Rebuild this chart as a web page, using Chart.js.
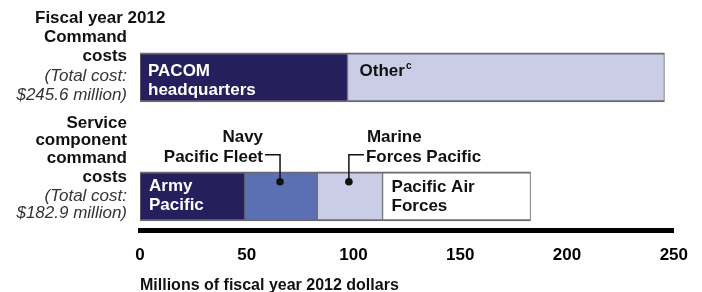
<!DOCTYPE html>
<html><head><meta charset="utf-8">
<script src="https://cdn.jsdelivr.net/npm/chart.js@4/dist/chart.umd.min.js"></script>
<style>html,body{margin:0;padding:0;background:#fff;} #wrap{width:702px;height:292px;position:relative;}</style>
</head><body><div id="wrap"><canvas id="c" width="702" height="292"></canvas></div>
<script>
const categories = ['Command costs', 'Service component command costs'];
const commandSegments = ['PACOM headquarters', 'Other'];
const commandValues = [97.2, 148.4];
const serviceSegments = ['Army Pacific', 'Navy Pacific Fleet', 'Marine Forces Pacific', 'Pacific Air Forces'];
const serviceValues = [49.1, 33.9, 30.6, 69.3];
const xTicks = [0, 50, 100, 150, 200, 250];
const xTitle = 'Millions of fiscal year 2012 dollars';
const heading = 'Fiscal year 2012';
const commandTotal = '$245.6 million)';
const serviceTotal = '$182.9 million)';

const FONT = '"Liberation Sans", Arial, sans-serif';
const commandColors = ['#261f5e', '#c9cde6'];
const serviceColors = ['#261f5e', '#5b6fb3', '#c9cde6', '#ffffff'];

const datasets = [];
commandSegments.forEach((name, i) => datasets.push({
  label: name, data: [{ x: commandValues[i], y: 1 }], backgroundColor: commandColors[i]
}));
serviceSegments.forEach((name, i) => datasets.push({
  label: name, data: [{ x: serviceValues[i], y: 2 }], backgroundColor: serviceColors[i]
}));
datasets.forEach(d => {
  d.borderColor = '#6a6a70';
  d.borderWidth = { top: 2, bottom: 2, left: 1, right: 1 };
  d.borderSkipped = false;
  d.barThickness = 49;
});

const labelPlugin = {
  id: 'labels',
  afterDatasetsDraw(chart) {
    const ctx = chart.ctx;
    const el = (d) => chart.getDatasetMeta(d).data[0];
    const topOf = (e) => e.y - e.height / 2;
    const leftOf = (e) => Math.min(e.x, e.base);
    const rightOf = (e) => Math.max(e.x, e.base);
    ctx.save();
    ctx.textBaseline = 'alphabetic';
    const bold = 'bold 17px ' + FONT;
    const txt = (t, x, y, align, color, font) => {
      ctx.font = font; ctx.fillStyle = color; ctx.textAlign = align; ctx.fillText(t, x, y);
    };
    const pac = el(0), oth = el(1), army = el(2), navy = el(3), mar = el(4), air = el(5);
    txt('PACOM', leftOf(pac) + 8, topOf(pac) + 23, 'left', '#ffffff', bold);
    txt('headquarters', leftOf(pac) + 8, topOf(pac) + 42, 'left', '#ffffff', bold);
    txt('Other', leftOf(oth) + 12, topOf(oth) + 23, 'left', '#111111', bold);
    ctx.font = bold;
    const ow = ctx.measureText('Other').width;
    txt('c', leftOf(oth) + 13 + ow, topOf(oth) + 16, 'left', '#111111', 'bold 10px ' + FONT);
    txt('Army', leftOf(army) + 9, topOf(army) + 19, 'left', '#ffffff', bold);
    txt('Pacific', leftOf(army) + 9, topOf(army) + 38, 'left', '#ffffff', bold);
    txt('Pacific Air', leftOf(air) + 9, topOf(air) + 20, 'left', '#111111', bold);
    txt('Forces', leftOf(air) + 9, topOf(air) + 39, 'left', '#111111', bold);
    // callouts
    const nx = (leftOf(navy) + rightOf(navy)) / 2 - 1;
    const mx = (leftOf(mar) + rightOf(mar)) / 2 - 1;
    const dotY = topOf(navy) + 10;
    const lineY = topOf(navy) - 17;
    txt('Navy', nx - 17, topOf(navy) - 30, 'right', '#111111', bold);
    txt('Pacific Fleet', nx - 17, topOf(navy) - 10, 'right', '#111111', bold);
    txt('Marine', mx + 18, topOf(mar) - 30, 'left', '#111111', bold);
    txt('Forces Pacific', mx + 17, topOf(mar) - 10, 'left', '#111111', bold);
    ctx.strokeStyle = '#111111'; ctx.lineWidth = 1.5;
    ctx.beginPath();
    ctx.moveTo(nx - 15, lineY); ctx.lineTo(nx, lineY); ctx.lineTo(nx, dotY);
    ctx.moveTo(mx + 15, lineY); ctx.lineTo(mx, lineY); ctx.lineTo(mx, dotY);
    ctx.stroke();
    ctx.fillStyle = '#111111';
    [nx, mx].forEach(x => { ctx.beginPath(); ctx.arc(x, dotY, 3.8, 0, Math.PI * 2); ctx.fill(); });
    // left labels
    const R = 127;
    const it = 'italic 17px ' + FONT;
    const cTop = topOf(pac), sTop = topOf(army);
    txt(heading, 35, cTop - 30, 'left', '#111111', bold);
    txt('Command', R, cTop - 11, 'right', '#111111', bold);
    txt('costs', R, cTop + 8, 'right', '#111111', bold);
    txt('(Total cost:', R, cTop + 28, 'right', '#333333', it);
    txt(commandTotal, R, cTop + 47, 'right', '#333333', it);
    txt('Service', R, sTop - 44, 'right', '#111111', bold);
    txt('component', R, sTop - 27, 'right', '#111111', bold);
    txt('command', R, sTop - 9, 'right', '#111111', bold);
    txt('costs', R, sTop + 10, 'right', '#111111', bold);
    txt('(Total cost:', R, sTop + 29, 'right', '#333333', it);
    txt(serviceTotal, R, sTop + 46, 'right', '#333333', it);
    ctx.restore();
  }
};

new Chart(document.getElementById('c'), {
  type: 'bar',
  data: { datasets },
  options: {
    indexAxis: 'y',
    responsive: false,
    animation: false,
    layout: { padding: { left: 140, right: 27, top: 10, bottom: 0 } },
    plugins: { legend: { display: false }, tooltip: { enabled: false } },
    scales: {
      y: { type: 'linear', reverse: true, min: 0.4328, max: 2.29, display: false, stacked: true,
           offset: false, grid: { offset: false } },
      x: {
        type: 'linear', min: xTicks[0], max: xTicks[xTicks.length - 1], stacked: true,
        afterBuildTicks: (s) => { s.ticks = xTicks.map(v => ({ value: v })); },
        grid: { display: false, drawTicks: false },
        border: { display: true, color: '#000000', width: 5 },
        ticks: { color: '#000000', font: { family: FONT, size: 17, weight: 'bold' }, padding: 14 },
        title: { display: true, text: xTitle, align: 'start', color: '#111111',
                 font: { family: FONT, size: 16, weight: 'bold', lineHeight: 0.8 }, padding: { top: 0, bottom: 0 } }
      }
    }
  },
  plugins: [labelPlugin]
});
</script></body></html>
